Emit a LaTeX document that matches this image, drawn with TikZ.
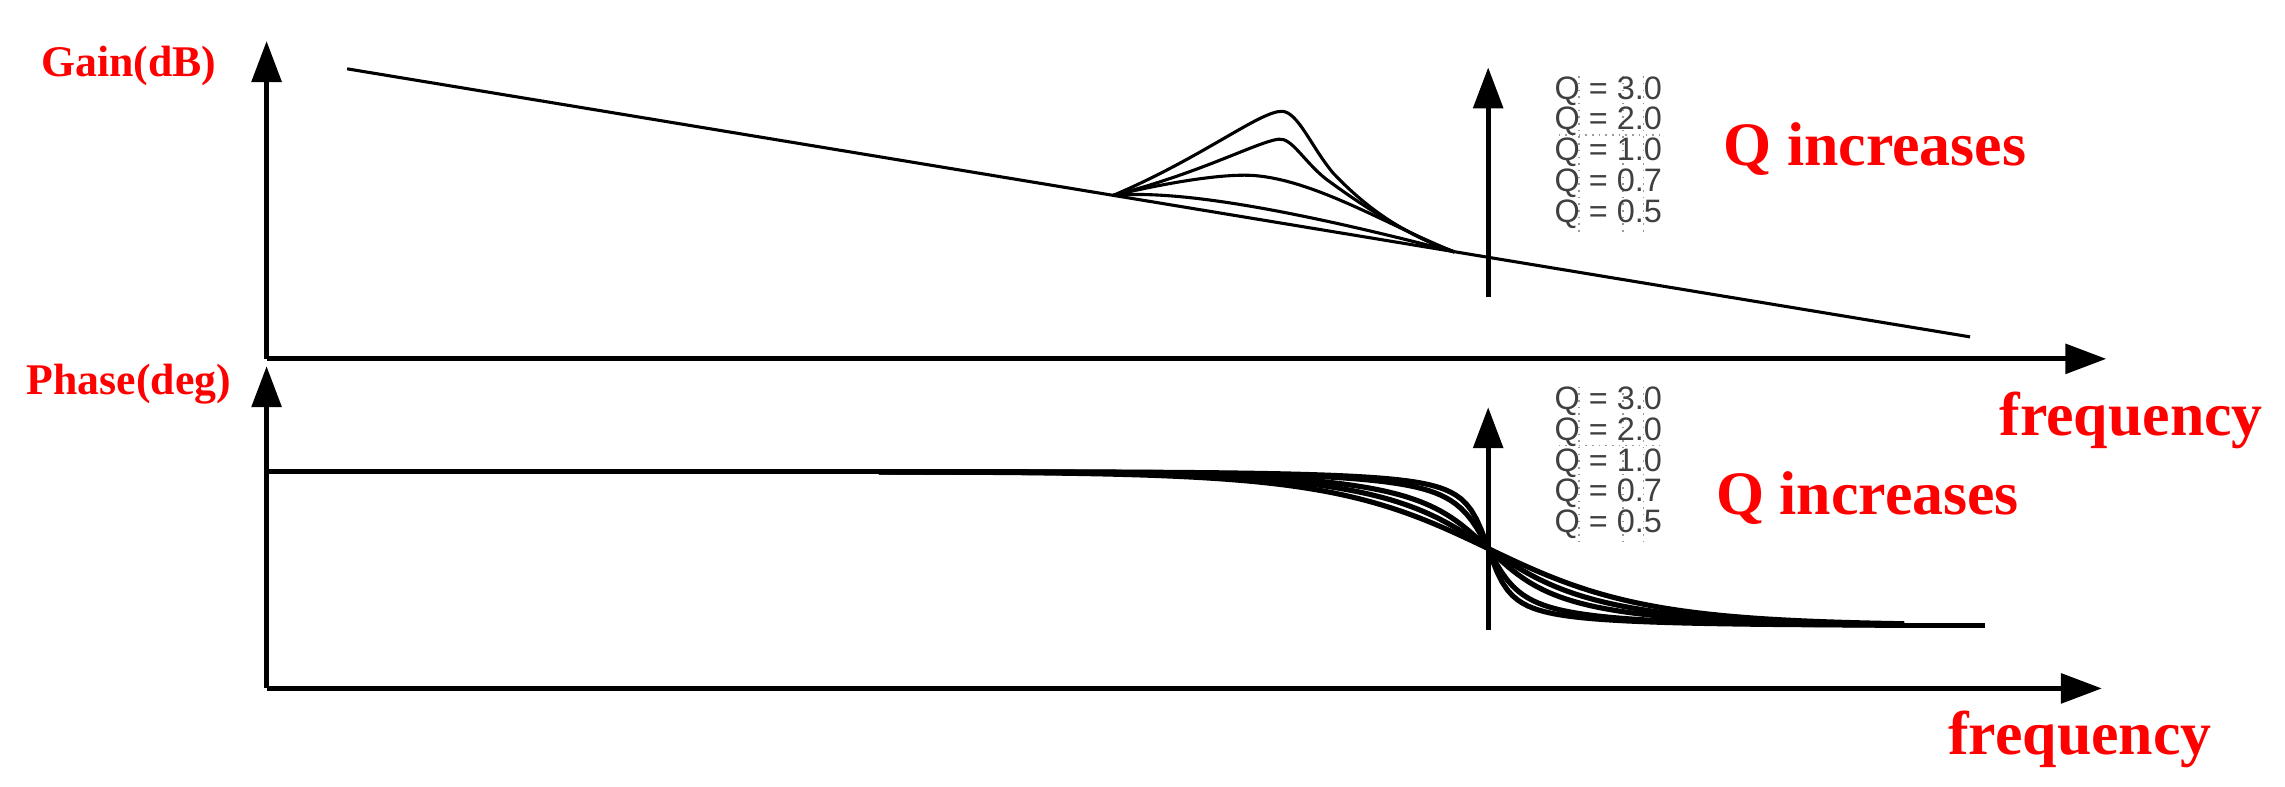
\documentclass[tikz,border=0pt]{standalone}
\usepackage{fontspec}
\setmainfont{Liberation Serif}
\newfontfamily\qfont{Liberation Sans}
\usetikzlibrary{arrows.meta}
\begin{document}
\begin{tikzpicture}[x=0.01cm,y=-0.01cm,
  axis/.style={line width=1pt,-{Triangle[length=0.28cm,width=0.2cm]}},
  redlab/.style={text=red,font=\bfseries\fontsize{12}{14}\selectfont,inner sep=0pt},
  axlab/.style={text=red,font=\bfseries\fontsize{8.5}{10}\selectfont,inner sep=0pt},
  qlab/.style={text=black!75,font=\qfont\fontsize{6.3}{7}\selectfont,inner sep=0pt},
  gcurve/.style={line width=0.6pt},
  pcurve/.style={line width=1pt}]
\useasboundingbox (0,0) rectangle (1560,537);
% axes
\coordinate (o1) at (182,245); \coordinate (y1) at (182,28); \coordinate (x1) at (1438,245);
\coordinate (o2) at (182,470); \coordinate (y2) at (182,250); \coordinate (x2) at (1435,470);
\draw[axis] (o1) -- (y1);
\draw[axis] (o1) -- (x1);
\draw[axis] (o2) -- (y2);
\draw[axis] (o2) -- (x2);
\node[axlab] (gain) at (88,45) {Gain(dB)};
\node[axlab] (phase) at (88,262) {Phase(deg)};
\node[redlab] (f1) at (1455,287) {frequency};
\node[redlab] (f2) at (1420,505) {frequency};
\node[redlab] (qi1) at (1280,102) {Q increases};
\node[redlab] (qi2) at (1275,340) {Q increases};
% gain
\coordinate (gs) at (237,47); \coordinate (ge) at (1345,230);
\coordinate (ps) at (760,133.4); \coordinate (pe) at (993,172);
\draw[gcurve] (gs) -- (ge);
\draw[gcurve] (ps) .. controls (820,108) and (860,76) .. (875,76) .. controls (886,76) and (895,100) .. (910,118) .. controls (940,150) and (970,164) .. (pe);
\draw[gcurve] (ps) .. controls (820,118) and (858,97) .. (873,95) .. controls (882,94) and (890,110) .. (905,122) .. controls (940,148) and (970,164) .. (pe);
\draw[gcurve] (ps) .. controls (800,124) and (838,118) .. (858,120) .. controls (900,124) and (950,155) .. (pe);
\draw[gcurve] (ps) .. controls (800,130) and (870,140) .. (pe);
\coordinate (a1s) at (1016,203); \coordinate (a1e) at (1016,46);
\draw[axis] (a1s) -- (a1e);
% phase
\coordinate (pl) at (182,322); \coordinate (pr) at (1355,427);
\draw[pcurve] (pl) -- (600,322);
\draw[pcurve] (1280,427) -- (pr);
\foreach \q in {3,2,1,0.7,0.5}{
  \draw[pcurve] plot[domain=600:1300,samples=200] (\x,{322+0.58333*(90+atan(\q*(exp((\x-1016)/70)-exp((1016-\x)/70))))});
}
\coordinate (a2s) at (1016,430); \coordinate (a2e) at (1016,278);
\draw[axis] (a2s) -- (a2e);
% Q legends
\foreach \yy in {0,212}{
  \draw[black!40,densely dotted,line width=0.3pt] (1078,52+\yy) -- (1078,160+\yy) (1108,52+\yy) -- (1108,160+\yy) (1122,52+\yy) -- (1122,160+\yy) (1064,92+\yy) -- (1134,92+\yy);
}
\foreach \v [count=\i] in {3.0,2.0,1.0,0.7,0.5}{
  \node[qlab] (qa\i) at (1098,41+21*\i) {Q = \v};
  \node[qlab] (qb\i) at (1098,253+21*\i) {Q = \v};
}
\end{tikzpicture}
\end{document}
